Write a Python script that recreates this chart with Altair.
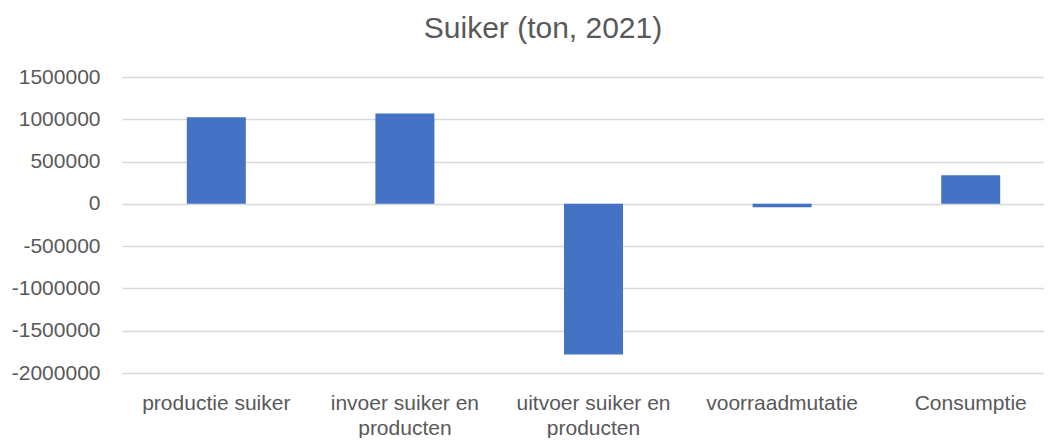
import altair as alt
import pandas as pd

categories = ["productie suiker", "invoer suiker en\nproducten", "uitvoer suiker en\nproducten", "voorraadmutatie", "Consumptie"]
values = [1025000, 1068000, -1780000, -40000, 338000]
y_ticks = [-2000000, -1500000, -1000000, -500000, 0, 500000, 1000000, 1500000]

df = pd.DataFrame({"cat": categories, "val": values})

FONT = "Liberation Sans"
GREY = "#595959"

chart = alt.Chart(df).mark_bar(size=59, color="#4472C4").encode(
    x=alt.X("cat:N", sort=categories, title=None,
            scale=alt.Scale(paddingInner=0, paddingOuter=0, range=[0, 943]),
            axis=alt.Axis(labelAngle=0, labelExpr="split(datum.label, '\\n')",
                          labelFontSize=21, labelFont=FONT, labelColor=GREY,
                          labelLineHeight=25, labelPadding=19,
                          domain=False, ticks=False, labelLimit=300)),
    y=alt.Y("val:Q", title=None,
            scale=alt.Scale(domain=[-2000000, 1500000], nice=False, zero=False),
            axis=alt.Axis(values=y_ticks, labelExpr="'' + datum.value", labelFontSize=21, labelFont=FONT,
                          labelColor=GREY, labelPadding=22, domain=False, ticks=False,
                          grid=True, gridColor="#D9D9D9", gridWidth=1.3)),
).properties(
    width=922, height=296,
    title=alt.TitleParams("Suiker (ton, 2021)", font=FONT, fontSize=30, fontWeight="normal",
                          color=GREY, anchor="middle", dx=-40, offset=22),
    autosize=alt.AutoSizeParams(type="none"),
    padding={"left": 114, "top": 69, "right": 0, "bottom": 65},
).configure_view(stroke=None)

chart.save("out.html", embed_options={"renderer": "svg", "actions": False})
